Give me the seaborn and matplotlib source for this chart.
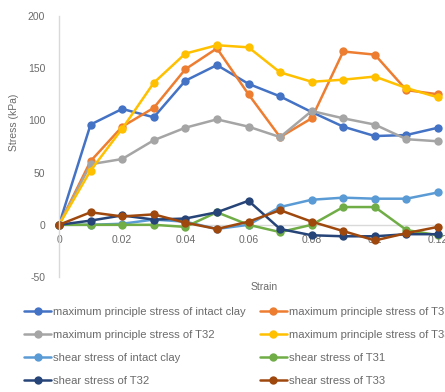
import numpy as np
import pandas as pd
import matplotlib
matplotlib.use("Agg")
import matplotlib.pyplot as plt
import seaborn as sns
from matplotlib.lines import Line2D

strain = [0, 0.01, 0.02, 0.03, 0.04, 0.05, 0.06, 0.07, 0.08, 0.09, 0.10, 0.11, 0.12]

max_intact = [0, 96, 111, 103, 138, 153, 135, 123, 108, 94, 85, 86, 93]
max_t31 = [0, 61, 94, 112, 149, 169, 125, 84, 102, 166, 163, 129, 125]
max_t32 = [0, 58, 63, 81, 93, 101, 94, 84, 109, 102, 96, 82, 80]
max_t33 = [0, 52, 92, 136, 164, 172, 170, 146, 137, 139, 142, 131, 122]
shear_intact = [0, 0, 1, 5, 3, -4, 0, 17, 24, 26, 25, 25, 31]
shear_t31 = [0, 0, 0, 0, -2, 12, 0, -7, 0, 17, 17, -5, -10]
shear_t32 = [0, 4, 9, 5, 6, 12, 23, -4, -10, -11, -11, -9, -9]
shear_t33 = [0, 12, 8, 10, 2, -4, 3, 14, 3, -6, -15, -8, -2]

series_names = [
    "maximum principle stress of intact clay",
    "maximum principle stress of T31",
    "maximum principle stress of T32",
    "maximum principle stress of T33",
    "shear stress of intact clay",
    "shear stress of T31",
    "shear stress of T32",
    "shear stress of T33",
]
series_values = [max_intact, max_t31, max_t32, max_t33,
                 shear_intact, shear_t31, shear_t32, shear_t33]
colors = ["#4472C4", "#ED7D31", "#A5A5A5", "#FFC000",
          "#5B9BD5", "#70AD47", "#264478", "#9E480E"]

y_ticks = [-50, 0, 50, 100, 150, 200]
x_ticks = [0, 0.02, 0.04, 0.06, 0.08, 0.10, 0.12]
x_tick_labels = ["0", "0.02", "0.04", "0.06", "0.08", "0.1", "0.12"]

df = pd.DataFrame({
    "Strain": np.tile(strain, len(series_names)),
    "Stress": np.concatenate(series_values),
    "series": np.repeat(series_names, len(strain)),
})

sns.set_style("white")
plt.rcParams["font.family"] = ["Liberation Sans", "DejaVu Sans"]
plt.rcParams["axes.unicode_minus"] = False

fig = plt.figure(figsize=(4.45, 3.92), dpi=100)
ax = fig.add_axes([59 / 445, 1 - 277 / 392, 379 / 445, 261 / 392])

sns.lineplot(data=df, x="Strain", y="Stress", hue="series",
             hue_order=series_names, palette=colors, marker="o",
             markersize=6, markeredgewidth=0, linewidth=1.8,
             legend=False, ax=ax, clip_on=False)

ax.set_xlim(0, 0.12)
ax.set_ylim(-50, 200)
ax.set_yticks(y_ticks)
ax.set_xticks(x_ticks)
ax.set_xticklabels(x_tick_labels)
ax.set_xlabel("")
ax.set_ylabel("")

for side in ["top", "right"]:
    ax.spines[side].set_visible(False)
ax.spines["bottom"].set_position(("data", 0))
ax.spines["bottom"].set_color("#D9D9D9")
ax.spines["left"].set_color("#D9D9D9")
ax.spines["bottom"].set_linewidth(1.0)
ax.spines["left"].set_linewidth(1.0)
ax.spines["bottom"].set_zorder(0)
ax.tick_params(axis="both", length=0, labelsize=7.5, labelcolor="#6b6b6b")
ax.tick_params(axis="y", pad=10)
ax.tick_params(axis="x", pad=7)

fig.text(14 / 445, 1 - 122 / 392, "Stress (kPa)", rotation=90,
         ha="center", va="center", fontsize=7.5, color="#6b6b6b")
fig.text(264 / 445, 1 - 287 / 392, "Strain", ha="center", va="center",
         fontsize=7.5, color="#6b6b6b")

handles = [Line2D([0], [0], color=c, marker="o", markersize=6,
                  markeredgewidth=0, linewidth=1.8) for c in colors]
order = [0, 2, 4, 6, 1, 3, 5, 7]
leg = fig.legend([handles[i] for i in order], [series_names[i] for i in order],
                 ncol=2, loc="upper left",
                 bbox_to_anchor=(24 / 445, 1 - 307 / 392),
                 frameon=False, fontsize=8.1, handlelength=2.4,
                 handletextpad=0.2, columnspacing=1.25, labelspacing=1.15,
                 borderaxespad=0, borderpad=0)
for t in leg.get_texts():
    t.set_color("#6b6b6b")

fig.savefig("out.png", dpi=100)
